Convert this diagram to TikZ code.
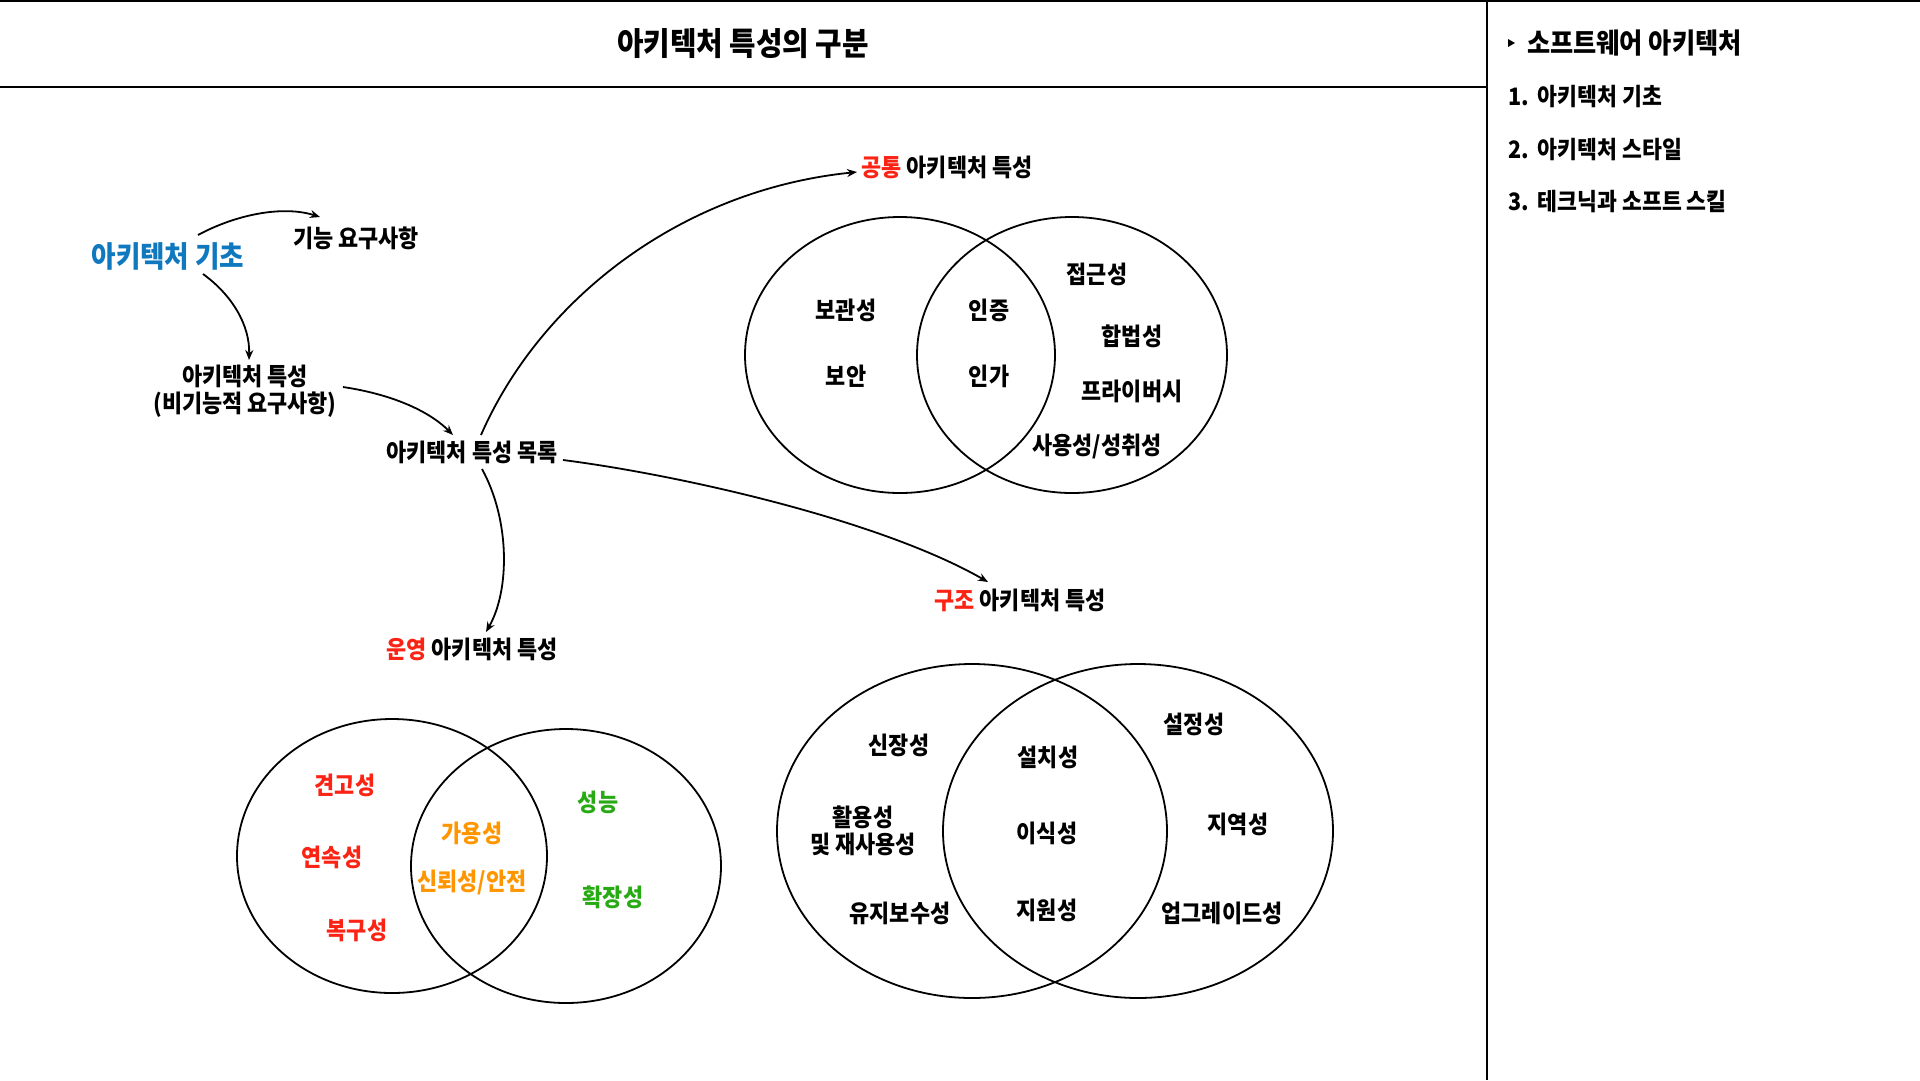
\documentclass[tikz,border=0pt]{standalone}
\usepackage{fontspec}
\setmainfont{Noto Sans CJK KR}[FakeStretch=0.9]
\usetikzlibrary{arrows.meta}
\definecolor{cred}{RGB}{250,35,20}
\definecolor{corange}{RGB}{255,150,0}
\definecolor{cgreen}{RGB}{40,170,20}
\definecolor{cblue}{RGB}{15,120,190}
\begin{document}
\begin{tikzpicture}[x=1pt,y=-1pt,
  lbl/.style={inner sep=0pt, font=\fontsize{24.3}{26.5}\selectfont\bfseries, align=center},
  side/.style={inner sep=0pt, anchor=west, font=\fontsize{24}{27}\selectfont\bfseries},
  arr/.style={line width=1.8pt, -{Stealth[length=10pt,width=8pt]}},
  venn/.style={line width=1.8pt, draw=black},
  frame/.style={line width=2pt}
]
\useasboundingbox (0,0) rectangle (1920,1080);
\fill[white] (0,0) rectangle (1920,1080);
% frame
\draw[frame] (0,1) -- (1920,1);
\draw[frame] (0,87) -- (1487,87);
\draw[frame] (1487,0) -- (1487,1080);
% title
\node[inner sep=0pt, font=\fontsize{32}{36}\selectfont\bfseries] (title) at (743,44) {아키텍처 특성의 구분};
% sidebar
\fill (1508,39) -- (1515,43) -- (1508,47) -- cycle;
\node[side, font=\fontsize{28}{30}\selectfont\bfseries] (sb0) at (1527,43) {소프트웨어 아키텍처};
\node[side] (sb1) at (1508,97) {1.\hspace{9pt}아키텍처 기초};
\node[side] (sb2) at (1508,150) {2.\hspace{9pt}아키텍처 스타일};
\node[side] (sb3) at (1508,202) {3.\hspace{9pt}테크닉과 소프트 스킬};
% main flow
\node[lbl, text=cblue, font=\fontsize{29.5}{32}\selectfont\bfseries] (basic) at (168,256) {아키텍처 기초};
\node[lbl] (func) at (356,238) {기능 요구사항};
\node[lbl] (char) at (245,391) {아키텍처 특성\\(비기능적 요구사항)};
\node[lbl] (list) at (472,452) {아키텍처 특성 목록};
\node[lbl] (common) at (947,167) {\textcolor{cred}{공통} 아키텍처 특성};
\node[lbl] (struct) at (1020,600) {\textcolor{cred}{구조} 아키텍처 특성};
\node[lbl] (oper) at (472,649) {\textcolor{cred}{운영} 아키텍처 특성};
% arrow endpoints
\coordinate (a1s) at (198,235); \coordinate (a1e) at (320,217);
\coordinate (a2s) at (203,274); \coordinate (a2e) at (249,360);
\coordinate (a3s) at (343,387); \coordinate (a3e) at (453,435);
\coordinate (a4s) at (481,435); \coordinate (a4e) at (857,172);
\coordinate (a5s) at (563,460); \coordinate (a5e) at (988,582);
\coordinate (a6s) at (482,469); \coordinate (a6e) at (486,632);
\draw[arr] (a1s) .. controls (235,215) and (282,205) .. (a1e);
\draw[arr] (a2s) .. controls (232,295) and (250,325) .. (a2e);
\draw[arr] (a3s) .. controls (390,394) and (428,410) .. (a3e);
\draw[arr] (a4s) .. controls (540,300) and (680,190) .. (a4e);
\draw[arr] (a5s) .. controls (680,475) and (880,520) .. (a5e);
\draw[arr] (a6s) .. controls (510,520) and (510,590) .. (a6e);
% top venn (common)
\draw[venn] (900,355) ellipse [x radius=155, y radius=138];
\draw[venn] (1072,355) ellipse [x radius=155, y radius=138];
\node[lbl] (c1) at (846,310) {보관성};
\node[lbl] (c2) at (846,376) {보안};
\node[lbl] (c3) at (989,310) {인증};
\node[lbl] (c4) at (989,376) {인가};
\node[lbl] (c5) at (1097,274) {접근성};
\node[lbl] (c6) at (1132,336) {합법성};
\node[lbl] (c7) at (1132,391) {프라이버시};
\node[lbl] (c8) at (1097,446) {사용성/성취성};
% bottom-left venn (operational)
\draw[venn] (392,856) ellipse [x radius=155, y radius=137];
\draw[venn] (566,866) ellipse [x radius=155, y radius=137];
\node[lbl, text=cred] (o1) at (345,785) {견고성};
\node[lbl, text=cred] (o2) at (332,857) {연속성};
\node[lbl, text=cred] (o3) at (357,930) {복구성};
\node[lbl, text=corange] (o4) at (472,833) {가용성};
\node[lbl, text=corange] (o5) at (472,882) {신뢰성/안전};
\node[lbl, text=cgreen] (o6) at (598,802) {성능};
\node[lbl, text=cgreen] (o7) at (613,897) {확장성};
% bottom-right venn (structural)
\draw[venn] (972,831) ellipse [x radius=195, y radius=167];
\draw[venn] (1138,831) ellipse [x radius=195, y radius=167];
\node[lbl] (s1) at (899,745) {신장성};
\node[lbl] (s2) at (863,831) {활용성\\및 재사용성};
\node[lbl] (s3) at (900,913) {유지보수성};
\node[lbl] (s4) at (1048,757) {설치성};
\node[lbl] (s5) at (1047,833) {이식성};
\node[lbl] (s6) at (1047,910) {지원성};
\node[lbl] (s7) at (1194,724) {설정성};
\node[lbl] (s8) at (1238,824) {지역성};
\node[lbl] (s9) at (1222,913) {업그레이드성};
\end{tikzpicture}
\end{document}
